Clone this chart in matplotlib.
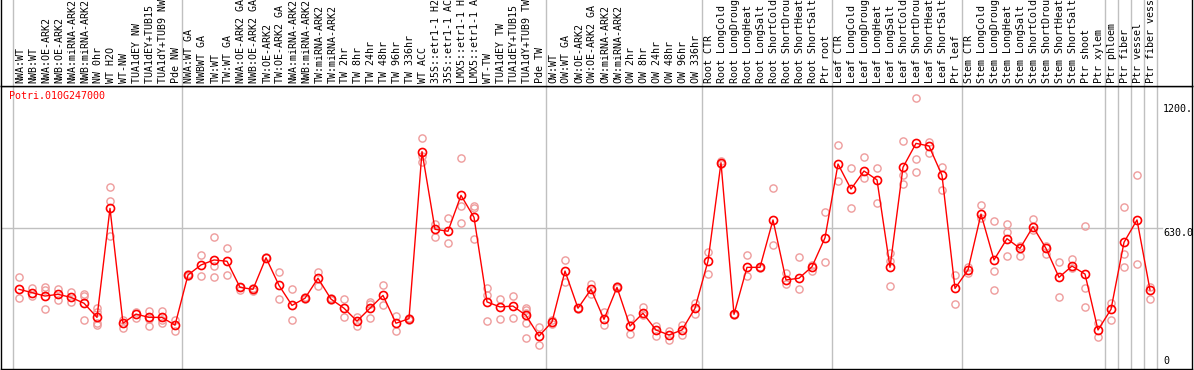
import matplotlib
matplotlib.use("Agg")
import matplotlib.pyplot as plt
import matplotlib.transforms as mtransforms

# sample labels (one per column)
labels = [
    "NWA:WT", "NWB:WT", "NWA:OE-ARK2", "NWB:OE-ARK2", "NWA:miRNA-ARK2",
    "NWB:miRNA-ARK2", "NW 0hr", "WT H2O", "WT-NW", "TUA1dEY NW",
    "TUA1dEY+TUB15 NW", "TUA1dY+TUB9 NW", "Pde NW",
    "NWA:WT GA", "NWBWT GA", "TW:WT", "TW:WT GA", "NWA:OE-ARK2 GA",
    "NWB:OE-ARK2 GA", "TW:OE-ARK2", "TW:OE-ARK2 GA", "NWA:miRNA-ARK2",
    "NWB:miRNA-ARK2", "TW:miRNA-ARK2", "TW:miRNA-ARK2", "TW 2hr", "TW 8hr",
    "TW 24hr", "TW 48hr", "TW 96hr", "TW 336hr", "WT ACC", "35S::etr1-1 H2O",
    "35S::etr1-1 ACC", "LMX5::etr1-1 H2O", "LMX5::etr1-1 ACC", "WT-TW",
    "TUA1dEY TW", "TUA1dEY+TUB15 TW", "TUA1dY+TUB9 TW", "Pde TW",
    "OW:WT", "OW:WT GA", "OW:OE-ARK2", "OW:OE-ARK2 GA", "OW:miRNA-ARK2",
    "OW:miRNA-ARK2", "OW 2hr", "OW 8hr", "OW 24hr", "OW 48hr", "OW 96hr",
    "OW 336hr",
    "Root CTR", "Root LongCold", "Root LongDrought", "Root LongHeat",
    "Root LongSalt", "Root ShortCold", "Root ShortDrought", "Root ShortHeat",
    "Root ShortSalt", "Ptr root",
    "Leaf CTR", "Leaf LongCold", "Leaf LongDrought", "Leaf LongHeat",
    "Leaf LongSalt", "Leaf ShortCold", "Leaf ShortDrought", "Leaf ShortHeat",
    "Leaf ShortSalt", "Ptr leaf",
    "Stem CTR", "Stem LongCold", "Stem LongDrought", "Stem LongHeat",
    "Stem LongSalt", "Stem ShortCold", "Stem ShortDrought", "Stem ShortHeat",
    "Stem ShortSalt", "Ptr shoot", "Ptr xylem",
    "Ptr phloem", "Ptr fiber", "Ptr vessel", "Ptr fiber vessel",
]

# group boundaries (index of first column of each new group)
group_starts = [0, 13, 41, 53, 63, 73, 84, 85, 86, 87, 88]

means = [
    348, 333, 317, 325, 311, 284, 219, 720, 192, 234, 219, 219, 183,
    414, 460, 483, 477, 357, 348, 493, 366, 274, 307, 399, 303,
    261, 202, 261, 320, 192, 213, 981, 624, 615, 780, 679,
    290, 267, 271, 228, 133,
    198, 432, 261, 348, 210, 357, 179, 238, 161, 138, 161, 261,
    478, 930, 233, 449, 449, 667, 391, 399, 452, 585,
    924, 809, 892, 851, 449, 909, 1019, 1007, 872, 352,
    437, 694, 483, 581, 536, 636, 536, 403, 455, 418, 161,
    256, 564, 667, 345,
]

replicates = [
    [403, 307], [355, 317], [360, 345, 257], [349, 299], [337, 290],
    [325, 319, 207], [261, 245, 192, 184], [820, 754, 595], [207, 171],
    [245, 217], [250, 181, 210], [250, 192, 207], [207, 158],
    [420, 408], [506, 409], [587, 455, 403], [537, 414], [345, 360],
    [342, 352], [497], [426, 302], [348, 207], [303, 311], [429, 365],
    [300, 306], [302, 222], [222, 179], [291, 279, 215], [368, 276],
    [225, 155], [208, 218], [1042, 960, 935], [648, 587], [674, 562],
    [950, 732, 651], [731, 722, 578], [353, 320, 202], [302, 210],
    [317, 215], [264, 251, 241, 192, 123], [173, 91],
    [205, 190], [483, 380], [264, 258], [372, 326], [245, 182], [352, 362],
    [215, 141], [265, 228], [181, 133], [158, 115], [184, 138], [284, 234],
    [518, 417], [937, 922], [236, 230], [506, 409], [452, 444], [812, 550],
    [421, 371], [495, 349], [459, 432], [702, 472],
    [1011, 846], [904, 722], [955, 858], [904, 743], [514, 480, 363],
    [1030, 874, 832], [1226, 946, 886], [1027, 973], [912, 805], [414, 280],
    [452, 425], [736, 675], [662, 434, 345], [647, 610, 501], [548, 501],
    [671, 620], [545, 509], [472, 311], [487, 445], [639, 352, 265],
    [194, 130],
    [286, 207], [725, 509, 452], [874, 464], [360, 302],
]

gene = "Potri.010G247000"
ytick_vals = [1200, 630]
ytick_text = ["1200.0", "630.0"]

W, H = 1194, 370
mono = "DejaVu Sans Mono"
fig = plt.figure(figsize=(W / 100, H / 100), dpi=100)

left, right = 1 / W, 1192 / W
top_px, bot_px = 86, 369
ax = fig.add_axes([left, (H - bot_px) / H, right - left, (bot_px - top_px) / H])
axh = fig.add_axes([left, (H - top_px) / H, right - left, top_px / H])

xlim = (-18 / 13, (1192 - 19) / 13)
for a in (ax, axh):
    a.set_xlim(*xlim)
    a.set_xticks([])
    a.set_yticks([])
    for b in group_starts:
        a.axvline(b - 0.5, color="#c0c0c0", lw=1.0, zorder=0)
    for s in a.spines.values():
        s.set_color("black")
        s.set_linewidth(1.0)
axh.spines["top"].set_visible(False)
axh.set_ylim(0, 1)

ax.set_ylim(-18.4, 1282.8)
ax.axhline(630, xmax=(1162 - 1) / 1191, color="#c0c0c0", lw=1.0, zorder=0)

# replicate points
xs, ys = [], []
for i, vals in enumerate(replicates):
    for v in vals:
        xs.append(i)
        ys.append(v)
ax.plot(xs, ys, "o", ls="none", ms=5.2, mfc="none", mec="#ee9c9c", mew=1.0, zorder=2)

# mean line
x = list(range(len(means)))
ax.plot(x, means, "-", color="red", lw=1.0, zorder=3)
ax.plot(x, means, "o", ls="none", ms=5.8, mfc="none", mec="red", mew=1.2, zorder=4)

# column labels in header
for i, lab in enumerate(labels):
    axh.text(i + 0.1, 0.03, lab, rotation=90, ha="center", va="bottom",
             family=mono, fontsize=7.2, color="black", clip_on=True)

# gene name
ax.text(8 / 1191, 1 - 5 / 283, gene, transform=ax.transAxes, ha="left", va="top",
        family=mono, fontsize=7.2, color="red")

# right-side value labels
trans = mtransforms.blended_transform_factory(ax.transAxes, ax.transData)
xl = (1163 - 1) / 1191
for v, t in zip(ytick_vals, ytick_text):
    ax.text(xl, v, t, transform=trans, ha="left", va="top", family=mono,
            fontsize=7.2, color="black", clip_on=True)
ax.text(xl, 0.01, "0", transform=ax.transAxes, ha="left", va="bottom",
        family=mono, fontsize=7.2, color="black")

fig.savefig("out.png", dpi=100)
